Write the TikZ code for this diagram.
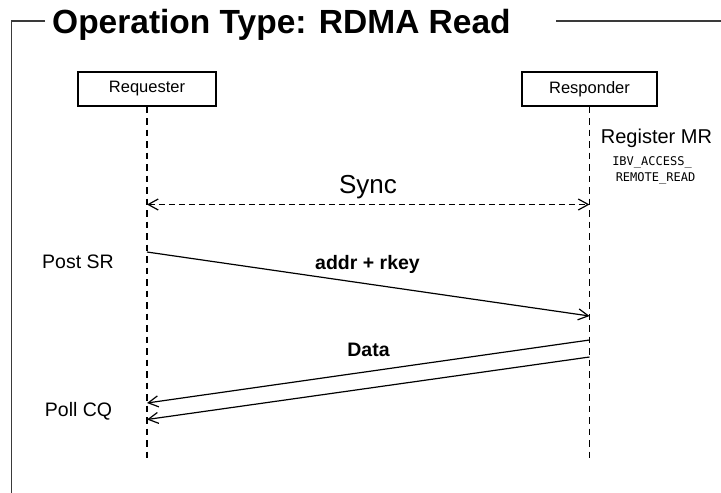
\documentclass[tikz,border=0pt]{standalone}
\usepackage{fontspec}
\setmainfont{Liberation Sans}
\newfontfamily\monof{DejaVu Sans Mono}
\usetikzlibrary{arrows.meta}
\definecolor{framegray}{HTML}{3A3A3A}
\tikzset{
  lifebox/.style={draw, line width=1.2pt, minimum width=138pt, minimum height=34pt, inner sep=0pt, font=\fontsize{16.5}{19}\selectfont},
  lifeline/.style={line width=1.1pt, dash pattern=on 6.5pt off 5pt},
  msg/.style={line width=1.2pt, -{Straight Barb[length=10pt,width=11pt,line width=1.2pt]}},
  syncmsg/.style={line width=1.2pt, dash pattern=on 6pt off 4pt, {Straight Barb[length=10pt,width=11pt,line width=1.2pt]}-{Straight Barb[length=10pt,width=11pt,line width=1.2pt]}},
  sidelabel/.style={font=\fontsize{19.5}{22}\selectfont, inner sep=0pt},
  msglabel/.style={font=\bfseries\fontsize{19.5}{22}\selectfont, inner sep=0pt},
  framebox/.style={draw=framegray, line width=1.8pt}
}
\begin{document}
\begin{tikzpicture}[x=1pt,y=-1pt]
\useasboundingbox (0,0) rectangle (721,493);
% frame
\node[anchor=base west, inner sep=0pt, font=\bfseries\fontsize{33.5}{38}\selectfont] (title) at (52,33.5) {Operation Type: RDMA Read};
\coordinate (fl) at (45,21);
\coordinate (fc) at (11.5,21);
\coordinate (fb) at (11.5,495);
\coordinate (fr1) at (556,21);
\coordinate (fr2) at (722,21);
\draw[framebox] (fl) -- (fc) -- (fb);
\draw[framebox] (fr1) -- (fr2);
% participants
\node[lifebox] (req) at (147,89) {Requester};
\node[lifebox, minimum width=135pt] (resp) at (589.5,89) {Responder};
\coordinate (reqend) at (147,463);
\coordinate (respend) at (589.5,463);
\draw[lifeline] (req.south) -- (reqend);
\draw[lifeline] (resp.south) -- (respend);
% register MR
\node[font=\fontsize{20}{22}\selectfont, inner sep=0pt] (reg) at (656.5,138) {Register MR};
\node[font=\monof\fontsize{12}{14}\selectfont, inner sep=0pt] (ibv1) at (652,162) {IBV\_ACCESS\_};
\node[font=\monof\fontsize{12}{14}\selectfont, inner sep=0pt] (ibv2) at (655.5,178) {REMOTE\_READ};
% sync
\coordinate (s1) at (147,204.5);
\coordinate (s2) at (589.5,204.5);
\draw[syncmsg] (s1) -- (s2);
\node[font=\fontsize{26}{28}\selectfont, inner sep=0pt] (sync) at (368,187) {Sync};
% post SR
\node[sidelabel] (post) at (78,262) {Post SR};
\coordinate (a1) at (147,252);
\coordinate (a2) at (589.5,316);
\draw[msg] (a1) -- (a2);
\node[msglabel] (addr) at (367.5,264) {addr + rkey};
% data
\coordinate (d1s) at (589.5,340);
\coordinate (d1e) at (147,403);
\coordinate (d2s) at (589.5,357);
\coordinate (d2e) at (147,419.5);
\draw[msg] (d1s) -- (d1e);
\draw[msg] (d2s) -- (d2e);
\node[msglabel] (data) at (368.5,350) {Data};
\node[sidelabel] (poll) at (78.5,411) {Poll CQ};
\end{tikzpicture}
\end{document}
